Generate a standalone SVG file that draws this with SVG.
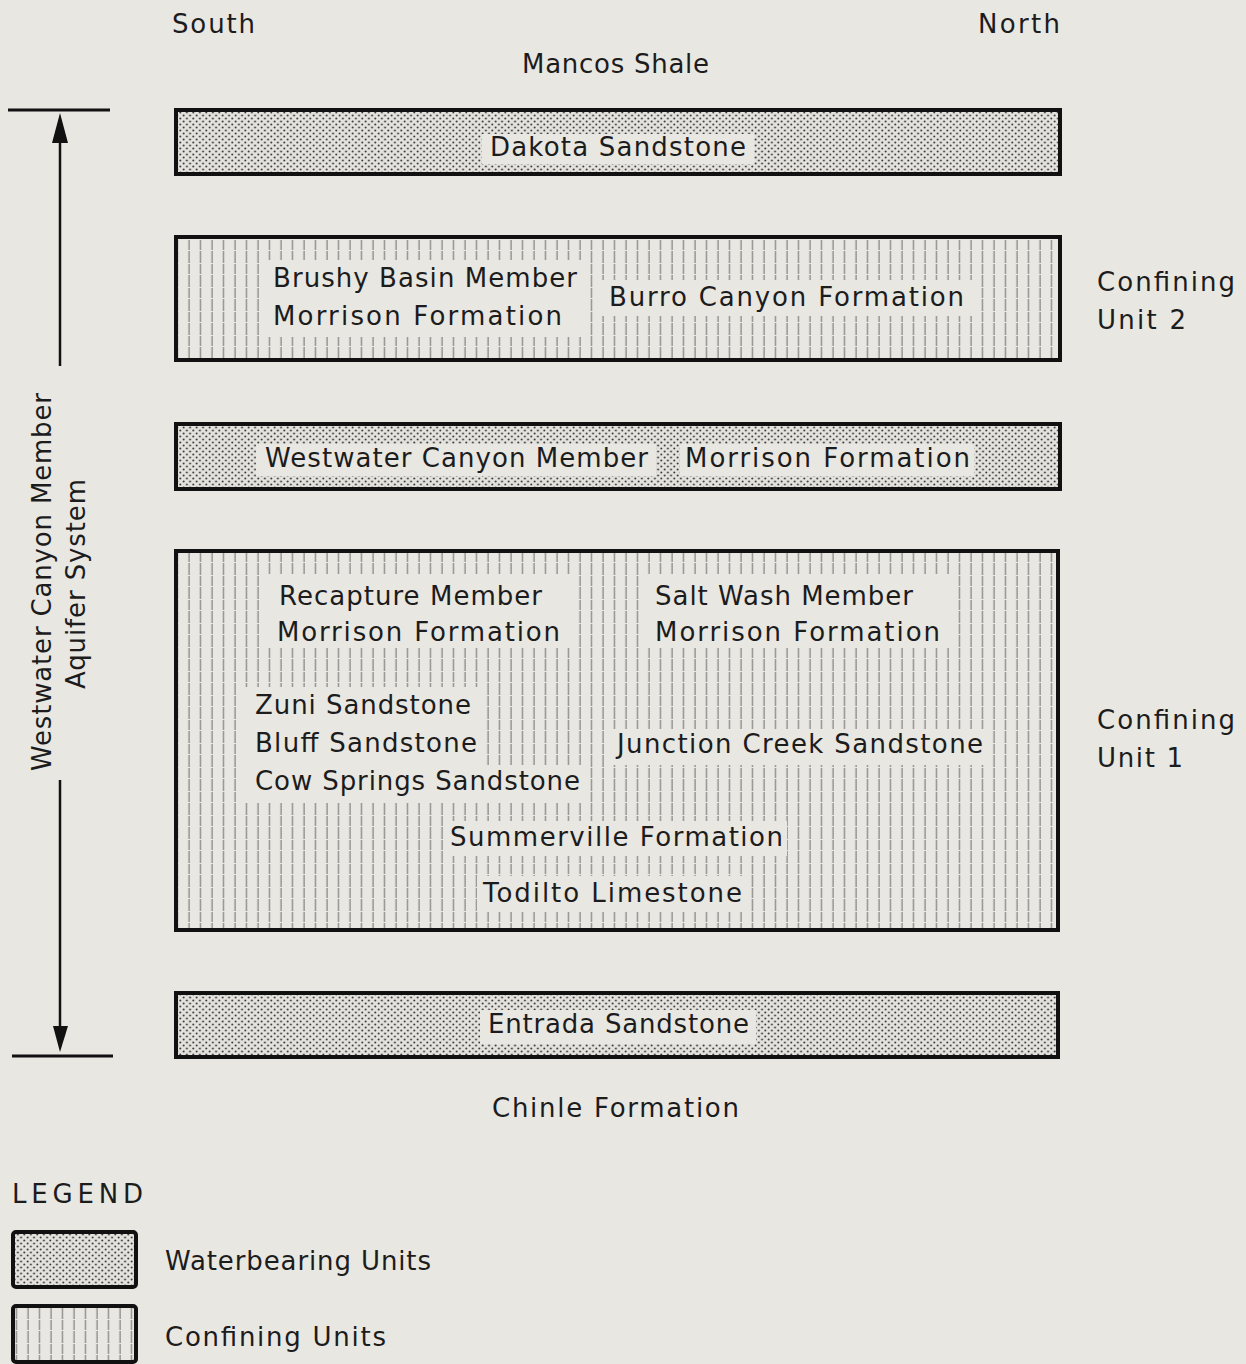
<svg xmlns="http://www.w3.org/2000/svg" width="1246" height="1364" viewBox="0 0 1246 1364">
<style>
.t{font-family:"DejaVu Sans","Liberation Sans",sans-serif;font-size:26px;fill:#1c1c1c}
.box{stroke:#111;stroke-width:4}
.clr{fill:#e9e7e2}
.wline{stroke:#111;stroke-width:3;fill:none}
</style>
<defs>
<pattern id="dots" width="6.5" height="6" patternUnits="userSpaceOnUse">
<rect width="6.5" height="6" fill="#e4e2dd"/>
<circle cx="1.6" cy="1.5" r="1" fill="#3a3a3a"/>
<circle cx="4.85" cy="4.5" r="1" fill="#3a3a3a"/>
</pattern>
<pattern id="hatch" width="11.5" height="24" patternUnits="userSpaceOnUse">
<rect width="11.5" height="24" fill="#e9e7e2"/>
<line x1="5" y1="0" x2="5" y2="24" stroke="#6a6a6a" stroke-width="1" stroke-dasharray="10 1 12 1"/>
</pattern>
</defs>
<rect width="1246" height="1364" fill="#e9e7e2"/>

<g id="labels">
<text class="t" x="172" y="33" textLength="83">South</text>
<text class="t" x="978" y="33" textLength="82">North</text>
<text class="t" x="522" y="73" textLength="187">Mancos Shale</text>
<text class="t" x="492" y="1117" textLength="247">Chinle Formation</text>
</g>

<g id="dakota">
<rect class="box" x="176" y="110" width="884" height="64" fill="url(#dots)"/>
<rect class="clr" x="482" y="134" width="272" height="30"/>
<text class="t" x="490" y="156" textLength="256">Dakota Sandstone</text>
</g>

<g id="confining2">
<rect class="box" x="176" y="237" width="884" height="123" fill="url(#hatch)"/>
<rect class="clr" x="262" y="260" width="325" height="77"/>
<rect class="clr" x="599" y="280" width="373" height="36"/>
<text class="t" x="273" y="287" textLength="304">Brushy Basin Member</text>
<text class="t" x="273" y="325" textLength="289">Morrison Formation</text>
<text class="t" x="609" y="306" textLength="355">Burro Canyon Formation</text>
<text class="t" x="1097" y="291" textLength="138">Confining</text>
<text class="t" x="1097" y="329" textLength="89">Unit 2</text>
</g>

<g id="westwater">
<rect class="box" x="176" y="424" width="884" height="65" fill="url(#dots)"/>
<rect class="clr" x="256" y="444" width="400" height="32"/>
<rect class="clr" x="680" y="444" width="294" height="32"/>
<text class="t" x="265" y="467" textLength="383">Westwater Canyon Member</text>
<text class="t" x="685" y="467" textLength="285">Morrison Formation</text>
</g>

<g id="confining1">
<rect class="box" x="176" y="551" width="882" height="379" fill="url(#hatch)"/>
<rect class="clr" x="263" y="574" width="308" height="74"/>
<rect class="clr" x="642" y="574" width="308" height="74"/>
<rect class="clr" x="243" y="687" width="238" height="80"/>
<rect class="clr" x="243" y="765" width="342" height="37"/>
<rect class="clr" x="608" y="729" width="380" height="36"/>
<rect class="clr" x="444" y="821" width="343" height="35"/>
<rect class="clr" x="477" y="876" width="270" height="35"/>
<text class="t" x="279" y="605" textLength="263">Recapture Member</text>
<text class="t" x="277" y="641" textLength="283">Morrison Formation</text>
<text class="t" x="655" y="605" textLength="258">Salt Wash Member</text>
<text class="t" x="655" y="641" textLength="285">Morrison Formation</text>
<text class="t" x="255" y="714" textLength="216">Zuni Sandstone</text>
<text class="t" x="255" y="752" textLength="222">Bluff Sandstone</text>
<text class="t" x="255" y="790" textLength="325">Cow Springs Sandstone</text>
<text class="t" x="617" y="753" textLength="366">Junction Creek Sandstone</text>
<text class="t" x="450" y="846" textLength="333">Summerville Formation</text>
<text class="t" x="483" y="902" textLength="259">Todilto Limestone</text>
<text class="t" x="1097" y="729" textLength="138">Confining</text>
<text class="t" x="1097" y="767" textLength="86">Unit 1</text>
</g>

<g id="entrada">
<rect class="box" x="176" y="993" width="882" height="64" fill="url(#dots)"/>
<rect class="clr" x="480" y="1010" width="276" height="34"/>
<text class="t" x="488" y="1033" textLength="261">Entrada Sandstone</text>
</g>

<g id="aquifer-label">
<text class="t" transform="translate(51,582) rotate(-90)" text-anchor="middle" textLength="378">Westwater Canyon Member</text>
<text class="t" transform="translate(85,584) rotate(-90)" text-anchor="middle" textLength="210">Aquifer System</text>
</g>

<g id="connectors">
<line class="wline" x1="8" y1="110" x2="110" y2="110"/>
<line class="wline" x1="12" y1="1056" x2="113" y2="1056"/>
<line x1="60" y1="130" x2="60" y2="366" stroke="#111" stroke-width="2.5"/>
<line x1="60" y1="780" x2="60" y2="1035" stroke="#111" stroke-width="2.5"/>
<polygon points="60,113 52,143 68,143" fill="#111"/>
<polygon points="60,1052 53,1026 68,1026" fill="#111"/>
</g>

<g id="legend">
<text class="t" x="12" y="1203" textLength="131">LEGEND</text>
<rect class="box" x="13" y="1232" width="123" height="55" rx="3" fill="url(#dots)" stroke-width="3"/>
<text class="t" x="165" y="1270" textLength="266">Waterbearing Units</text>
<rect class="box" x="13" y="1306" width="123" height="56" rx="3" fill="url(#hatch)" stroke-width="3"/>
<text class="t" x="165" y="1346" textLength="221">Confining Units</text>
</g>
</svg>
